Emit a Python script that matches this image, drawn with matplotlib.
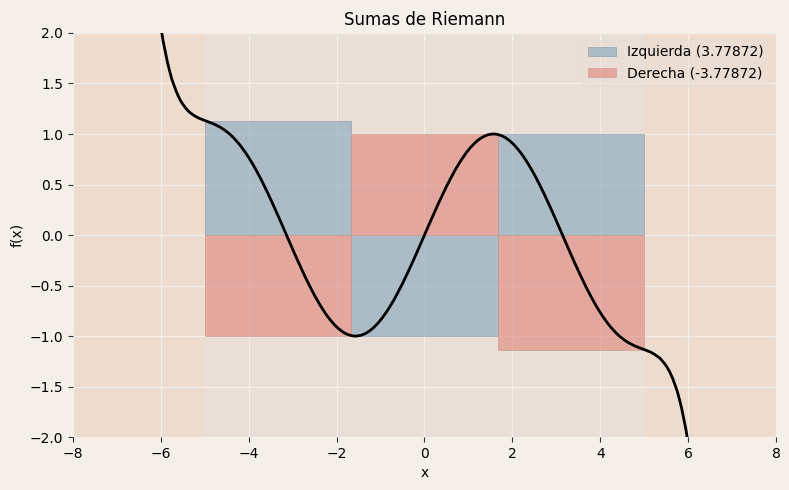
import numpy as np
import matplotlib
matplotlib.use("Agg")
import matplotlib.pyplot as plt
from matplotlib.path import Path
from matplotlib.patches import PathPatch

# curve samples
curve_x = [-6.2, -6.0, -5.8, -5.6, -5.4, -5.2, -5.0, -4.8, -4.6, -4.4, -4.2, -4.0,
           -3.8, -3.6, -3.4, -3.2, -3.0, -2.8, -2.6, -2.4, -2.2, -2.0, -1.8, -1.6,
           -1.4, -1.2, -1.0, -0.8, -0.6, -0.4, -0.2, 0.0, 0.2, 0.4, 0.6, 0.8, 1.0,
           1.2, 1.4, 1.6, 1.8, 2.0, 2.2, 2.4, 2.6, 2.8, 3.0, 3.2, 3.4, 3.6, 3.8,
           4.0, 4.2, 4.4, 4.6, 4.8, 5.0, 5.2, 5.4, 5.6, 5.8, 6.0, 6.2]
curve_y = [2.7819, 2.0603, 1.6225, 1.3724, 1.2392, 1.1717, 1.1336, 1.0998, 1.0538,
           0.9856, 0.8903, 0.7668, 0.6170, 0.4451, 0.2568, 0.0589, -0.1409, -0.3349,
           -0.5155, -0.6754, -0.8085, -0.9093, -0.9738, -0.9996, -0.9854, -0.9320,
           -0.8415, -0.7174, -0.5646, -0.3894, -0.1987, 0.0, 0.1987, 0.3894, 0.5646,
           0.7174, 0.8415, 0.9320, 0.9854, 0.9996, 0.9738, 0.9093, 0.8085, 0.6754,
           0.5155, 0.3349, 0.1409, -0.0589, -0.2568, -0.4451, -0.6170, -0.7668,
           -0.8903, -0.9856, -1.0538, -1.0998, -1.1336, -1.1717, -1.2392, -1.3724,
           -1.6225, -2.0603, -2.7819]

# riemann rectangles
rect_left = [-5.0, -1.6667, 1.6667]
rect_width = 3.3333
left_heights = [1.1336, -0.9954, 0.9954]
right_heights = [-0.9954, 0.9954, -1.1336]
label_left = "Izquierda (3.77872)"
label_right = "Derecha (-3.77872)"


def smooth_path(xs, ys):
    # catmull-rom through the samples, drawn as bezier segments
    p = np.column_stack([xs, ys])
    verts = [p[0]]
    codes = [Path.MOVETO]
    n = len(p)
    for i in range(n - 1):
        p0 = p[max(i - 1, 0)]
        p3 = p[min(i + 2, n - 1)]
        c1 = p[i] + (p[i + 1] - p0) / 6
        c2 = p[i + 1] - (p3 - p[i]) / 6
        verts += [c1, c2, p[i + 1]]
        codes += [Path.CURVE4] * 3
    return Path(verts, codes)


fig, ax = plt.subplots(figsize=(7.89, 4.9), dpi=100)
fig.patch.set_facecolor("#f5efea")
ax.set_facecolor("#eadfd6")
fig.subplots_adjust(left=0.0925, right=0.9835, top=0.9327, bottom=0.108)

# outside the interval
ax.axvspan(-8, -5, color="#eddcce", lw=0, zorder=0)
ax.axvspan(5, 8, color="#eddcce", lw=0, zorder=0)

ax.grid(True, color="#f4efeb", lw=0.9, zorder=0.5)
ax.set_axisbelow(True)

ax.bar(rect_left, left_heights, width=rect_width, align="edge", color="#83a5bc",
       alpha=0.6, edgecolor="#8f9ba4", lw=0.7, label=label_left, zorder=1)
ax.bar(rect_left, right_heights, width=rect_width, align="edge", color="#e08279",
       alpha=0.6, edgecolor="#c99890", lw=0.7, label=label_right, zorder=1)

ax.add_patch(PathPatch(smooth_path(curve_x, curve_y), facecolor="none",
                       edgecolor="black", lw=2, zorder=3))

ax.set_xlim(-8, 8)
ax.set_ylim(-2, 2)
ax.set_xticks(np.arange(-8, 9, 2))
ax.set_yticks(np.arange(-2, 2.01, 0.5))
for s in ax.spines.values():
    s.set_visible(False)
ax.tick_params(length=3.5, color="#333333", labelsize=10)
ax.set_xlabel("x", fontsize=10)
ax.set_ylabel("f(x)", fontsize=10)
ax.set_title("Sumas de Riemann", fontsize=12)

leg = ax.legend(loc="upper right", fontsize=10, framealpha=0.5,
                facecolor="#eadfd6", edgecolor="#e6dcd3")

fig.savefig("out.png", dpi=100, facecolor=fig.get_facecolor())
